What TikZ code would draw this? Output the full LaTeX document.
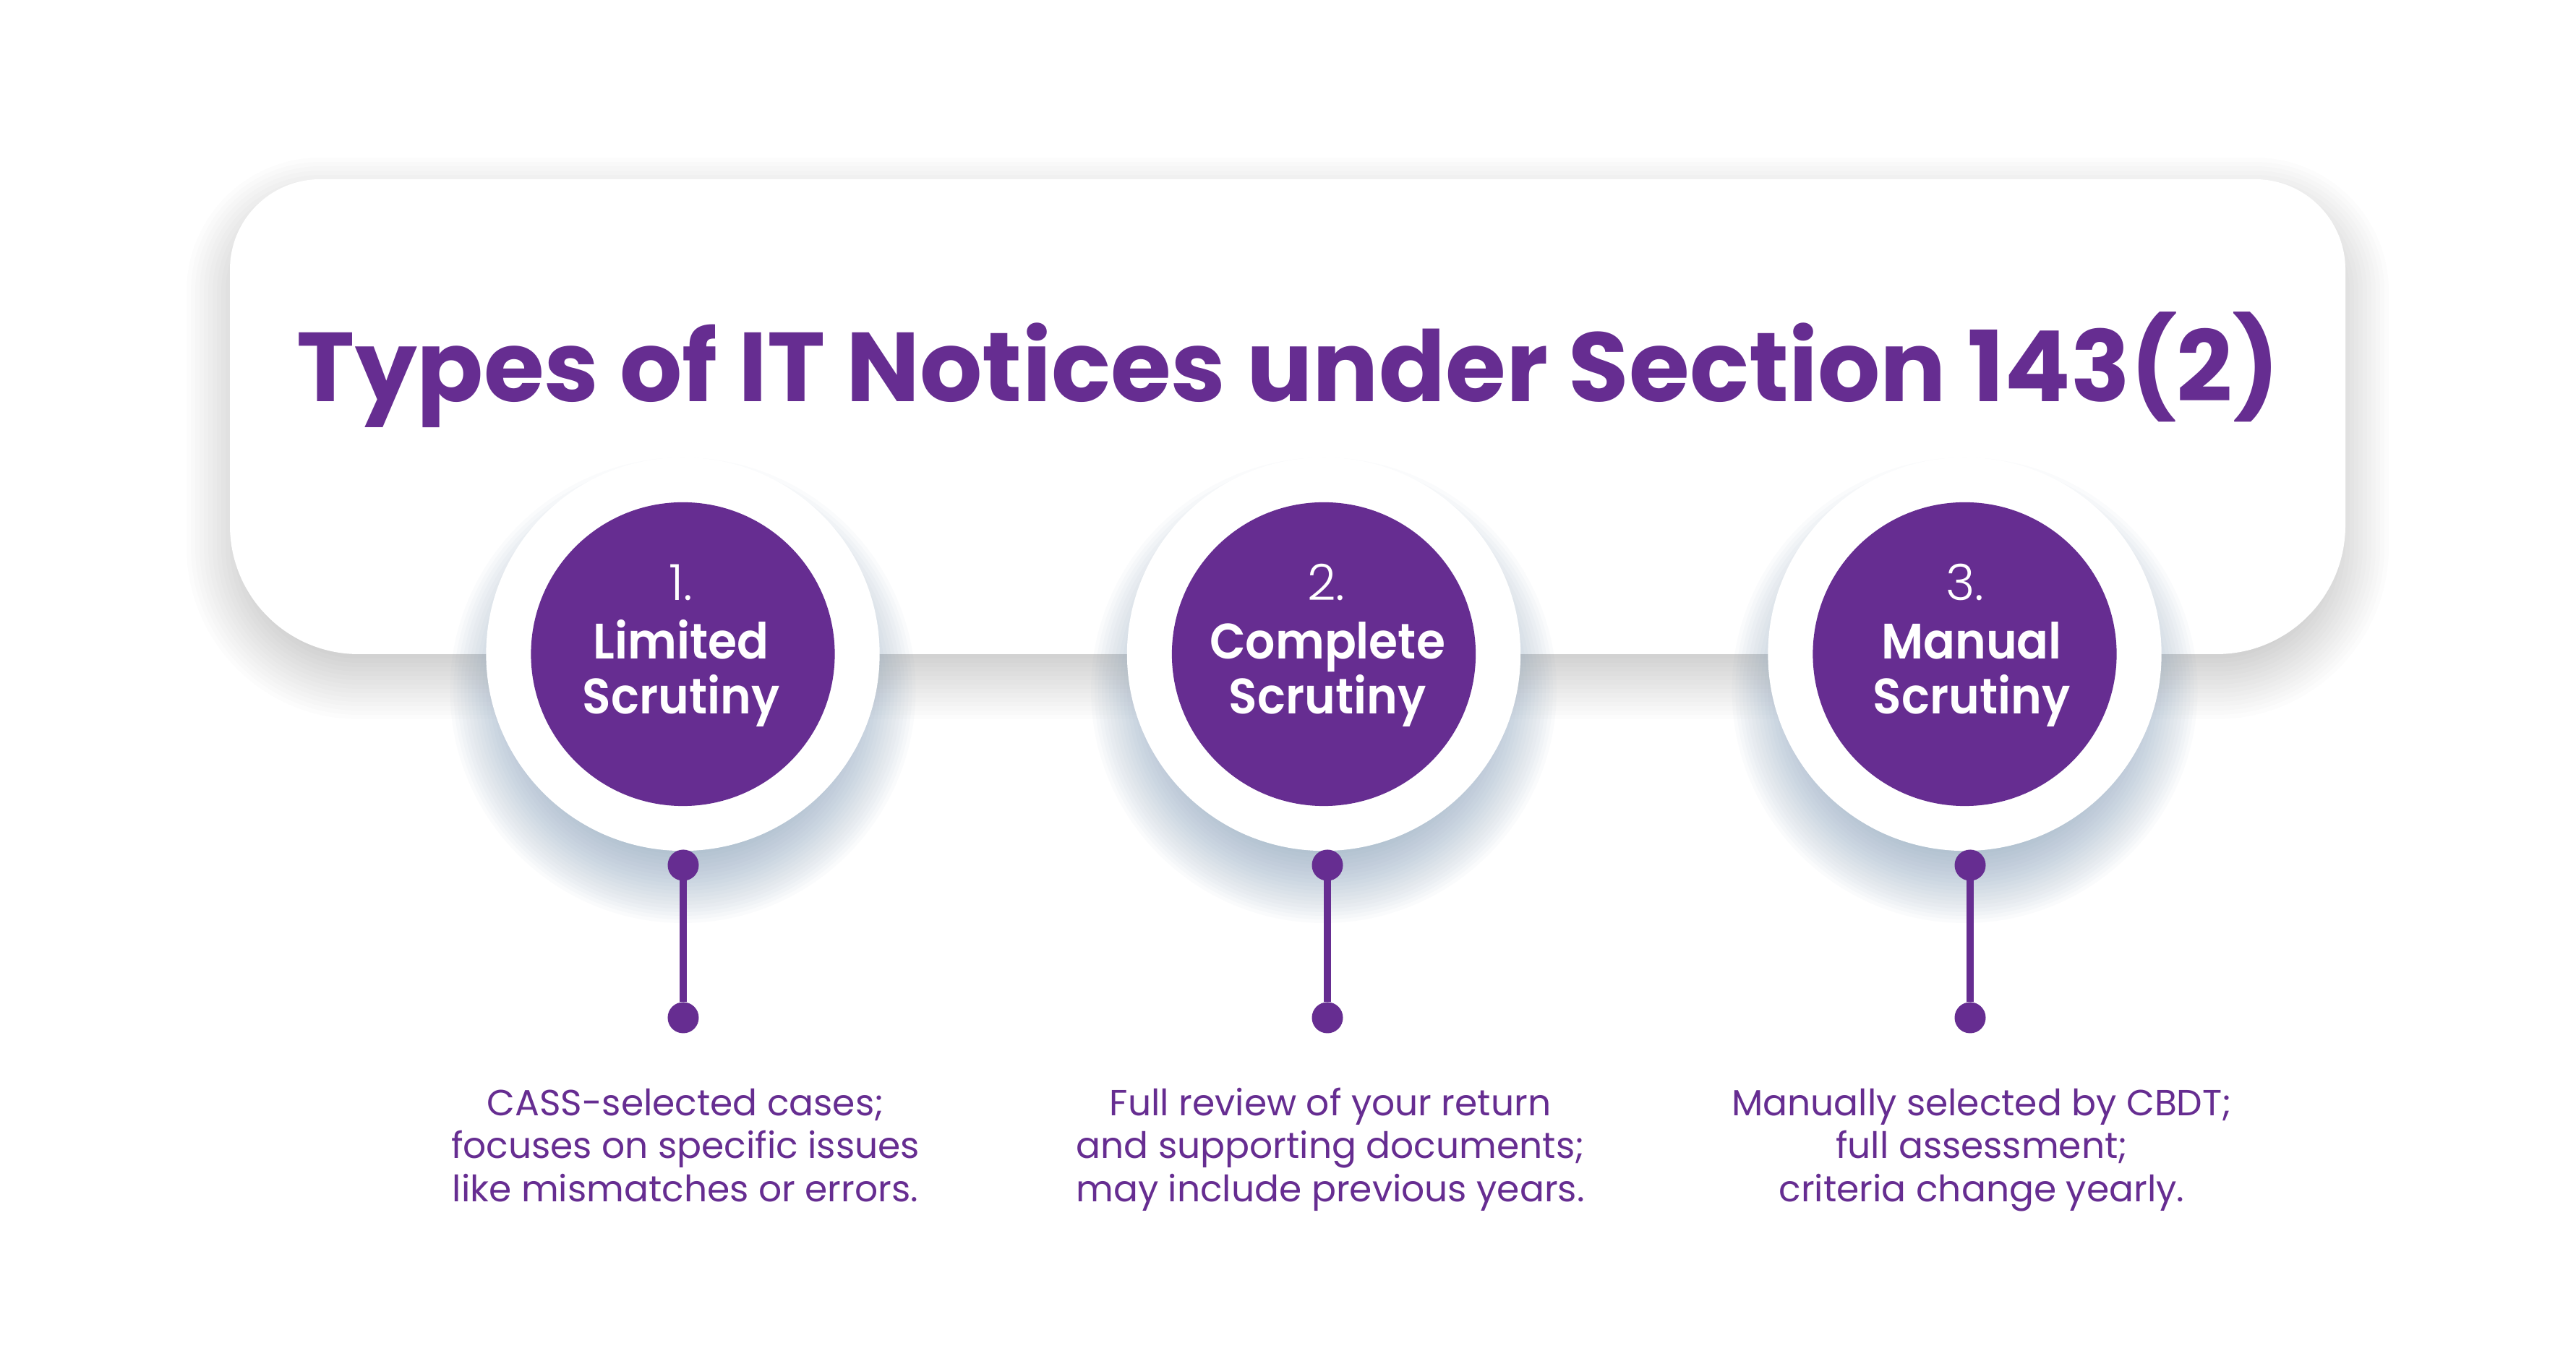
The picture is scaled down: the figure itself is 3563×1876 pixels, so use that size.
\documentclass[tikz,border=0pt]{standalone}
\usepackage{fontspec}
\setmainfont{Poppins}
\newfontfamily\popsb{Poppins SemiBold}[FakeStretch=0.94]
\newfontfamily\poplt{Poppins Light}
\definecolor{brand}{HTML}{662D91}
\definecolor{bluesh}{HTML}{6F8FAE}
\tikzset{
  cardp/.style 2 args={insert path={
    ({318-(#1)},{1149-(#2)}) -- ({318-(#1)},{1503-(#2)})
    arc[start angle=180,end angle=90,radius={125+(#1)}]
    -- (3119,{1628+(#1)-(#2)})
    arc[start angle=90,end angle=0,radius={125+(#1)}]
    -- ({3244+(#1)},{1149-(#2)})
    arc[start angle=0,end angle=-90,radius={178+(#1)}]
    -- (496,{971-(#1)-(#2)})
    arc[start angle=270,end angle=180,radius={178+(#1)}] -- cycle}},
  cardshadow/.style={fill=black,opacity=0.012},
  circshadow/.style={fill=bluesh,opacity=0.032},
  outerc/.style={circle,fill=white,minimum size=5.44cm,inner sep=0pt,outer sep=0pt},
  innerc/.style={circle,fill=brand,minimum size=4.2cm,inner sep=0pt,outer sep=0pt},
  dotn/.style={circle,fill=brand,minimum size=0.43cm,inner sep=0pt,outer sep=0pt},
  conn/.style={draw=brand,line width=3.04pt},
  titletext/.style={anchor=base,inner sep=0pt,text=brand,font=\fontsize{38.6pt}{46pt}\selectfont\bfseries},
  numtext/.style={anchor=base,inner sep=0pt,text=white,font=\fontsize{19.6pt}{24pt}\selectfont\poplt},
  nametext/.style={anchor=base,inner sep=0pt,text=white,font=\fontsize{19.6pt}{24pt}\selectfont\popsb},
  desctext/.style={anchor=base,inner sep=0pt,text=brand,font=\fontsize{14.3pt}{17pt}\selectfont},
}
\begin{document}
\begin{tikzpicture}[x=0.01cm,y=0.01cm]
\fill[white] (0,0) rectangle (3563,1876);
\useasboundingbox (0,0) rectangle (3563,1876);
% card shadow and card
\foreach \e in {-60,-54,...,60} { \path[cardshadow,cardp={\e}{30}]; }
\path[fill=white,cardp={0}{0}];
% circle shadows
\foreach \cx in {944.5,1831,2717.5} {
  \foreach \e in {-50,-45,...,50} { \fill[circshadow] (\cx,921) circle[radius={272+\e}]; }
}
% circles
\node[outerc] (o1) at (944.5,971) {};
\node[outerc] (o2) at (1831,971) {};
\node[outerc] (o3) at (2717.5,971) {};
\node[innerc] (i1) at (944.5,971) {};
\node[innerc] (i2) at (1831,971) {};
\node[innerc] (i3) at (2717.5,971) {};
% connectors
\node[dotn] (d1t) at (945,679) {};
\node[dotn] (d1b) at (945,468) {};
\node[dotn] (d2t) at (1836,679) {};
\node[dotn] (d2b) at (1836,468) {};
\node[dotn] (d3t) at (2725,679) {};
\node[dotn] (d3b) at (2725,468) {};
\draw[conn] (d1t) -- (d1b);
\draw[conn] (d2t) -- (d2b);
\draw[conn] (d3t) -- (d3b);
% title
\node[titletext] (title) at (1782,1320) {Types of IT Notices under Section 143(2)};
% circle texts
\node[numtext] (n1) at (942,1045) {1.};
\node[nametext] (a1) at (942,964) {Limited};
\node[nametext] (b1) at (942,888) {Scrutiny};
\node[numtext] (n2) at (1834,1045) {2.};
\node[nametext] (a2) at (1836,964) {Complete};
\node[nametext] (b2) at (1836,888) {Scrutiny};
\node[numtext] (n3) at (2718,1045) {3.};
\node[nametext] (a3) at (2727,964) {Manual};
\node[nametext] (b3) at (2727,888) {Scrutiny};
% descriptions
\node[desctext] (p1a) at (948,332) {CASS-selected cases;};
\node[desctext] (p1b) at (948,273) {focuses on specific issues};
\node[desctext] (p1c) at (948,213) {like mismatches or errors.};
\node[desctext] (p2a) at (1840,332) {Full review of your return};
\node[desctext] (p2b) at (1840,273) {and supporting documents;};
\node[desctext] (p2c) at (1840,213) {may include previous years.};
\node[desctext] (p3a) at (2741,332) {Manually selected by CBDT;};
\node[desctext] (p3b) at (2741,273) {full assessment;};
\node[desctext] (p3c) at (2741,213) {criteria change yearly.};
\end{tikzpicture}
\end{document}
